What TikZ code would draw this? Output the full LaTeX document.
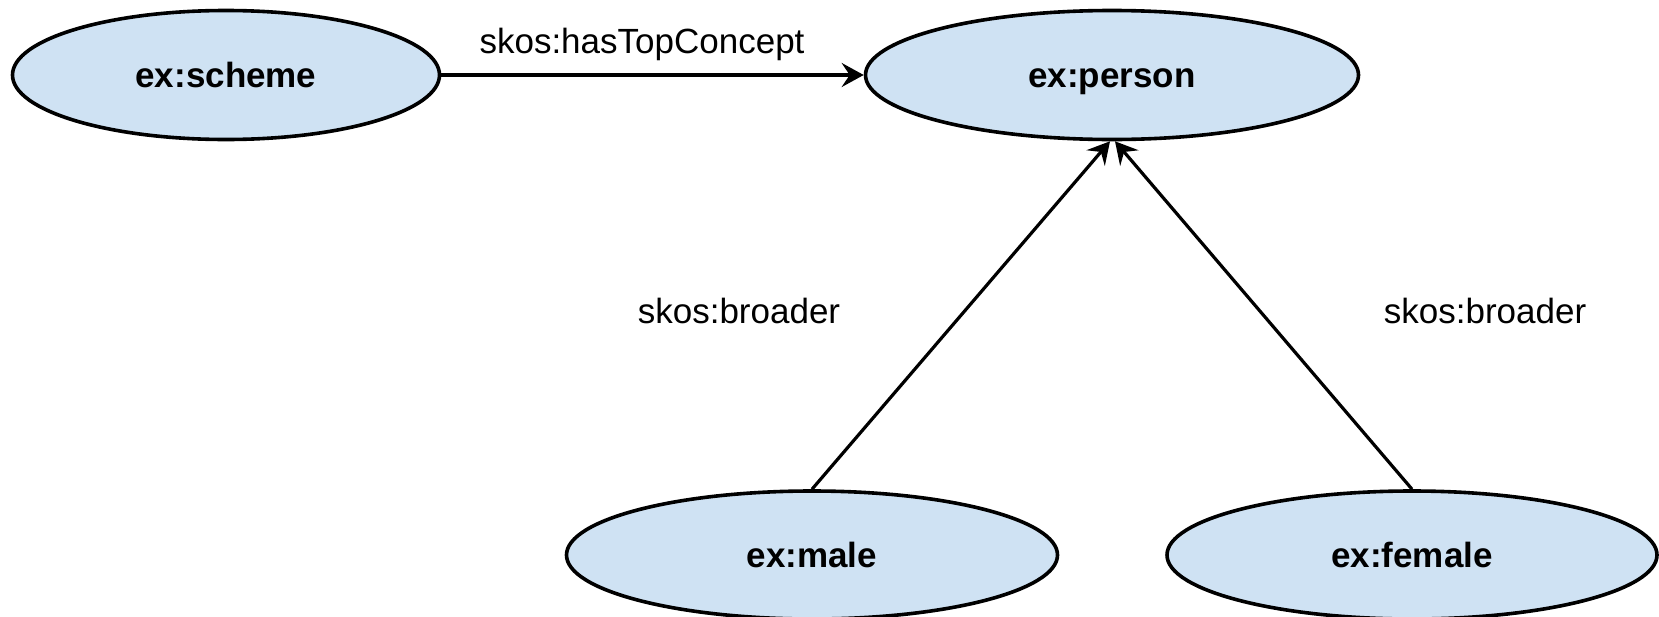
\documentclass[tikz,border=0pt]{standalone}
\usepackage{fontspec}
\setmainfont{Liberation Sans}
\usetikzlibrary{shapes.geometric,arrows.meta}
\definecolor{conceptfill}{RGB}{207,226,243}
\tikzset{
  concept/.style={ellipse, draw=black, fill=conceptfill, line width=3.6pt,
    inner sep=0pt, minimum height=129pt, text height=25pt, text depth=0pt,
    font=\fontsize{35}{42}\selectfont\bfseries},
  rel/.style={draw=black, line width=3.2pt,
    -{Stealth[length=22pt,width=24pt,inset=8pt]}},
  rellabel/.style={font=\fontsize{35}{42}\selectfont, inner sep=0pt}
}
\begin{document}
\begin{tikzpicture}[x=1pt,y=-1pt]
  \useasboundingbox (0,0) rectangle (1659,616);
  % concepts of the scheme
  \node[concept, minimum width=427pt] (scheme) at (226,75) {ex:scheme};
  \node[concept, minimum width=493pt] (person) at (1112,75) {ex:person};
  \node[concept, minimum width=491pt, minimum height=128pt] (male) at (812,555) {ex:male};
  \node[concept, minimum width=490pt, minimum height=128pt] (female) at (1412,555) {ex:female};
  % arrow ends on the lower rim of ex:person
  \coordinate (pm) at ([xshift=-2pt]person.south);
  \coordinate (pf) at ([xshift=3pt]person.south);
  % relations
  \draw[rel] (scheme) -- (person);
  \draw[rel] (male.north) -- (pm);
  \draw[rel] (female.north) -- (pf);
  % relation labels
  \node[rellabel] (ltop) at (642,44) {skos:hasTopConcept};
  \node[rellabel] (lmale) at (739,311) {skos:broader};
  \node[rellabel] (lfemale) at (1485,311) {skos:broader};
\end{tikzpicture}
\end{document}
